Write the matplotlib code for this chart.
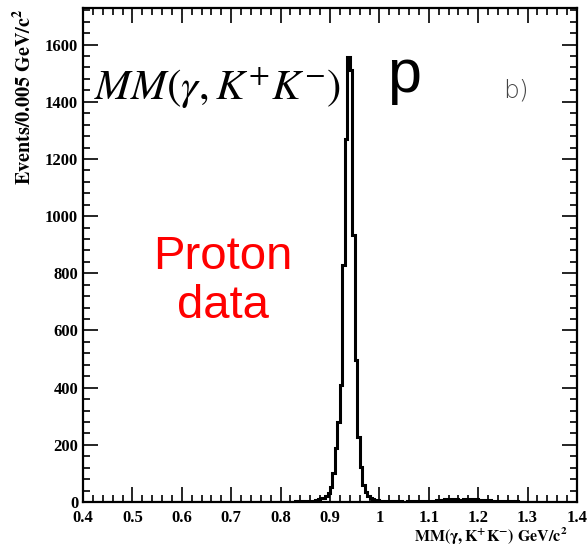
import numpy as np
import matplotlib
matplotlib.use('Agg')
import matplotlib.pyplot as plt
from matplotlib.ticker import MultipleLocator

plt.rcParams['mathtext.fontset'] = 'stix'

# histogram: 0.005 GeV bins, first bin starts at 0.800, empty elsewhere
bin_width = 0.005
first_edge = 0.800
counts = [0, 1, 0, 1, 1, 0, 2, 1, 2, 3,
          2, 4, 3, 5, 8, 12, 14, 13, 20, 30,
          52, 100, 190, 280, 409, 829, 1270, 1556, 1511, 934,
          497, 227, 122, 59, 35, 20, 14, 10, 8, 6,
          5, 4, 3, 3, 2, 2, 2, 1, 2, 1,
          1, 2, 1, 2, 2, 1, 3, 2, 3, 4,
          3, 5, 4, 6, 7, 8, 9, 10, 11, 10,
          12, 9, 8, 7, 9, 8, 11, 12, 10, 9,
          6, 8, 5, 7, 6, 4, 5, 3, 4, 2,
          3, 2, 1, 3, 1, 2, 1, 1, 0, 1,
          1, 0, 0, 1]

edges = first_edge + bin_width * np.arange(len(counts) + 1)

fig = plt.figure(figsize=(5.87, 5.5), dpi=100)
ax = fig.add_axes([83/587, 48/550, 494/587, 494/550])

ax.stairs(counts, edges, color='black', linewidth=2.2, baseline=None)

ax.set_xlim(0.4, 1.4)
ax.set_ylim(0, 1728)
ax.xaxis.set_major_locator(MultipleLocator(0.1))
ax.xaxis.set_minor_locator(MultipleLocator(0.02))
ax.yaxis.set_major_locator(MultipleLocator(200))
ax.yaxis.set_minor_locator(MultipleLocator(40))
ax.tick_params(which='both', direction='in', top=True, right=True, width=1.2)
ax.tick_params(which='major', length=11)
ax.tick_params(which='minor', length=5)
ax.tick_params(axis='x', which='major', pad=6)
for s in ax.spines.values():
    s.set_linewidth(1.6)

xt = [0.4, 0.5, 0.6, 0.7, 0.8, 0.9, 1.0, 1.1, 1.2, 1.3, 1.4]
ax.set_xticks(xt)
ax.set_xticklabels(['0.4', '0.5', '0.6', '0.7', '0.8', '0.9', '1', '1.1', '1.2', '1.3', '1.4'])
for lab in ax.get_xticklabels() + ax.get_yticklabels():
    lab.set_family('Liberation Serif')
    lab.set_weight('bold')
    lab.set_fontsize(12)

fig.text(0.040, 0.985, r'$\mathbf{Events/0.005\ GeV/c^{2}}$', rotation=90,
         ha='center', va='top', fontsize=14.5)
fig.text(0.966, 0.006, r'$\mathbf{MM(\gamma,K^{+}K^{-})\ GeV/c^{2}}$',
         ha='right', va='bottom', fontsize=11.5)

ax.text(0.673, 1448, r'$MM(\gamma,K^{+}K^{-})$', fontsize=31, ha='center', va='center')
ax.text(1.05, 1490, 'p', fontsize=44, family='Liberation Sans', ha='center', va='center')
ax.text(1.277, 1441, 'b)', fontsize=18, family='DejaVu Sans', color='#444444',
        fontweight='light', ha='center', va='center')
ax.text(0.683, 770, 'Proton\ndata', fontsize=34, family='Liberation Sans', color='#ff0000',
        ha='center', va='center', linespacing=1.15)

fig.savefig('out.png', dpi=100)
